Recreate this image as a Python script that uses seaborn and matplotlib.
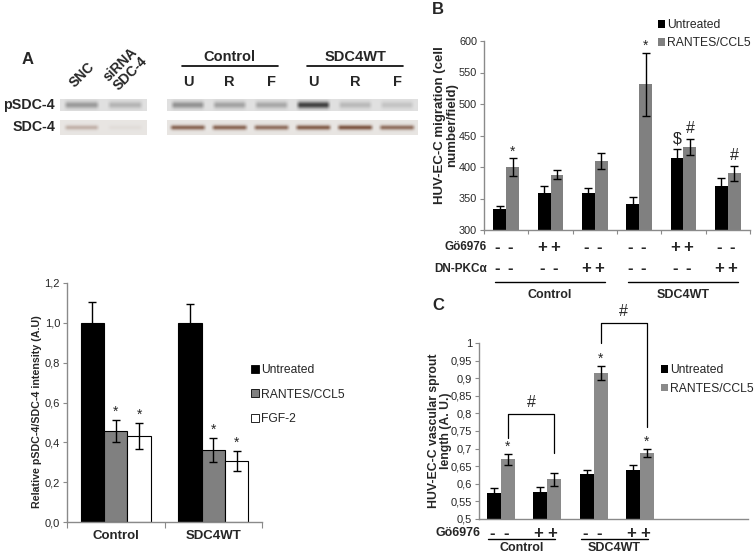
import numpy as np
import pandas as pd
import matplotlib
matplotlib.use("Agg")
import matplotlib.pyplot as plt
import matplotlib.transforms as mtransforms
from matplotlib.patches import Patch
from matplotlib.container import BarContainer
import seaborn as sns

# ---------------- data ----------------
# Panel A: western blot (band darkness 0..1)
blot_rows = ["pSDC-4", "SDC-4"]
blot_left_lanes = ["SNC", "siRNA\nSDC-4"]
blot_left_psdc = [0.40, 0.25]
blot_left_sdc = [0.30, 0.05]
blot_right_lanes = ["U", "R", "F", "U", "R", "F"]
blot_right_groups = ["Control", "SDC4WT"]
blot_right_psdc = [0.45, 0.35, 0.32, 0.92, 0.22, 0.16]
blot_right_sdc = [0.75, 0.75, 0.70, 0.80, 0.85, 0.70]

# Panel A: bar chart
a_groups = ["Control", "SDC4WT"]
a_treatments = ["Untreated", "RANTES/CCL5", "FGF-2"]
a_control = [1.0, 0.456, 0.433]
a_control_err = [0.105, 0.056, 0.065]
a_sdc4wt = [1.0, 0.361, 0.307]
a_sdc4wt_err = [0.094, 0.060, 0.050]
a_control_marks = ["", "*", "*"]
a_sdc4wt_marks = ["", "*", "*"]
a_yticks = [0.0, 0.2, 0.4, 0.6, 0.8, 1.0, 1.2]

# Panel B: migration
b_treatments = ["Untreated", "RANTES/CCL5"]
b_untreated = [334, 359, 359, 342, 414, 370]
b_untreated_err = [4, 11, 7, 10, 14, 12]
b_rantes = [400, 388, 409, 531, 432, 390]
b_rantes_err = [13.5, 7, 12.5, 50, 13, 12]
b_untreated_marks = ["", "", "", "", "$", ""]
b_rantes_marks = ["*", "", "", "*", "#", "#"]
b_go6976 = ["-", "+", "-", "-", "+", "-"]
b_dnpkc = ["-", "-", "+", "-", "-", "+"]
b_cell_groups = ["Control", "SDC4WT"]
b_yticks = [300, 350, 400, 450, 500, 550, 600]

# Panel C: sprout length
c_untreated = [0.575, 0.577, 0.628, 0.638]
c_untreated_err = [0.014, 0.013, 0.011, 0.015]
c_rantes = [0.670, 0.613, 0.915, 0.688]
c_rantes_err = [0.016, 0.018, 0.020, 0.011]
c_rantes_marks = ["*", "", "*", "*"]
c_go6976 = ["-", "+", "-", "+"]
c_cell_groups = ["Control", "SDC4WT"]
c_yticks = [0.5, 0.55, 0.6, 0.65, 0.7, 0.75, 0.8, 0.85, 0.9, 0.95, 1.0]
# significance brackets: (from bar, to bar, top, left end, right end)
c_brackets = [(0, 1, 0.798, 0.731, 0.688), (2, 3, 1.057, 1.0, 0.761)]

# ---------------- style ----------------
sns.set_style("white")
plt.rcParams["font.family"] = ["Liberation Sans", "DejaVu Sans"]
AXC = "#8a8a8a"
GREY = "#808080"

W, H = 754, 557
fig = plt.figure(figsize=(W / 100, H / 100), dpi=100)


def rect(l, t, r, b):
    return [l / W, 1 - b / H, (r - l) / W, (b - t) / H]


def fy(p):
    return 1 - p / H


def fx(p):
    return p / W


# ---------------- blot ----------------
def draw_strip(r, intens, bg, band, sigma=0.25, width=0.42):
    ax = fig.add_axes(rect(*r))
    n = len(intens)
    res = 60
    xs = (np.arange(n * res) + 0.5) / res
    ys = (np.arange(30) + 0.5) / 30
    lane = np.floor(xs).astype(int)
    frac = xs - lane
    hprof = np.clip((width - np.abs(frac - 0.5)) / 0.1, 0, 1)
    inten = np.asarray(intens)[lane]
    vprof = np.exp(-((ys - 0.5) / sigma) ** 2)
    alpha = vprof[:, None] * (hprof * inten)[None, :]
    bg = np.asarray(bg)
    band = np.asarray(band)
    img = bg[None, None, :] * (1 - alpha[..., None]) + band[None, None, :] * alpha[..., None]
    ax.imshow(img, extent=(-0.5, n - 0.5, 1, 0), aspect="auto", interpolation="bilinear")
    ax.set_xlim(-0.5, n - 0.5)
    ax.set_ylim(1, 0)
    ax.axis("off")
    return ax


P_BG, P_BAND = (0.88, 0.88, 0.88), (0.20, 0.20, 0.20)
S_BG, S_BAND = (0.91, 0.90, 0.89), (0.42, 0.24, 0.15)
bl_p = draw_strip((60, 99, 147, 111), blot_left_psdc, P_BG, P_BAND, 0.28)
bl_s = draw_strip((60, 120, 147, 135), blot_left_sdc, S_BG, S_BAND, 0.16)
br_p = draw_strip((167, 99, 418, 111), blot_right_psdc, P_BG, P_BAND, 0.28)
br_s = draw_strip((167, 120, 418, 135), blot_right_sdc, S_BG, S_BAND, 0.16, 0.45)

fig.text(fx(28), fy(60), "A", fontsize=12, fontweight="bold", ha="center", va="center")
fig.text(fx(55), fy(105), blot_rows[0], fontsize=10.3, fontweight="bold", ha="right", va="center")
fig.text(fx(55), fy(127), blot_rows[1], fontsize=10.3, fontweight="bold", ha="right", va="center")

trl = mtransforms.blended_transform_factory(bl_p.transData, fig.transFigure)
for i, lab in enumerate(blot_left_lanes):
    fig.text(i, fy(75 - 6 * i), lab, transform=trl, fontsize=10, fontweight="bold", rotation=45,
             ha="center", va="center", linespacing=0.95)

trr = mtransforms.blended_transform_factory(br_p.transData, fig.transFigure)
for i, lab in enumerate(blot_right_lanes):
    fig.text(i, fy(82), lab, transform=trr, fontsize=10.5, fontweight="bold", ha="center", va="center")
for g, lab in enumerate(blot_right_groups):
    c = 3 * g + 1
    fig.text(c, fy(57), lab, transform=trr, fontsize=10.5, fontweight="bold", ha="center", va="center")
    fig.add_artist(plt.Line2D([c - 1.15, c + 1.15], [fy(66), fy(66)], transform=trr,
                              color="black", lw=1.2))


# ---------------- helpers ----------------
def style_axes(ax):
    sns.despine(ax=ax)
    for s in ("left", "bottom"):
        ax.spines[s].set_color(AXC)
        ax.spines[s].set_linewidth(1.0)
    ax.tick_params(axis="y", which="major", direction="out", length=3, width=0.8,
                   color=AXC, left=True, pad=2)


def bar_containers(ax):
    return [c for c in ax.containers if isinstance(c, BarContainer)]


def add_errors(ax, errs, marks, offset_pts):
    """errs[k][i]: hue level k, category i"""
    tops = []
    for k, cont in enumerate(bar_containers(ax)):
        row = []
        for i, p in enumerate(cont.patches):
            x = p.get_x() + p.get_width() / 2
            h = p.get_height()
            e = errs[k][i]
            ax.errorbar([x], [h], yerr=[e], fmt="none", ecolor="black",
                        elinewidth=1.0, capsize=2.6, capthick=1.0, zorder=5)
            m = marks[k][i]
            if m:
                fs = 10 if m == "*" else 11.5
                ax.annotate(m, (x, h + e), xytext=(0, offset_pts.get(m, 1)),
                            textcoords="offset points", ha="center", va="bottom",
                            fontsize=fs, annotation_clip=False)
            row.append((x, h + e))
        tops.append(row)
    return tops


# ---------------- panel A bars ----------------
axA = fig.add_axes(rect(67, 283, 262, 522))
dfA = pd.DataFrame({
    "group": [g for g in a_groups for _ in a_treatments],
    "treatment": a_treatments * len(a_groups),
    "value": a_control + a_sdc4wt,
})
sns.barplot(data=dfA, x="group", y="value", hue="treatment", order=a_groups,
            hue_order=a_treatments, palette=["black", GREY, "white"], saturation=1,
            edgecolor="black", linewidth=0.8, width=0.72, errorbar=None,
            legend=False, ax=axA)
a_err_by_hue = [list(e) for e in zip(a_control_err, a_sdc4wt_err)]
a_marks_by_hue = [list(m) for m in zip(a_control_marks, a_sdc4wt_marks)]
add_errors(axA, a_err_by_hue, a_marks_by_hue, {"*": 1})
axA.set_ylim(0, 1.2)
axA.set_xlim(-0.5, 1.5)
axA.set_yticks(a_yticks)
axA.set_yticklabels([f"{v:.1f}".replace(".", ",") for v in a_yticks], fontsize=8)
axA.set_xticks(range(len(a_groups)))
axA.set_xticklabels(a_groups, fontsize=9.5, fontweight="bold")
axA.set_xticks([-0.5, 0.5, 1.5], minor=True)
axA.tick_params(axis="x", which="major", length=0, pad=6)
axA.tick_params(axis="x", which="minor", length=4, width=0.8, color=AXC, direction="out", bottom=True)
axA.set_xlabel("")
axA.set_ylabel("Relative pSDC-4/SDC-4 intensity (A.U)", fontsize=7.7, fontweight="bold")
axA.yaxis.set_label_coords(-0.13, 0.46)
style_axes(axA)

fig.legend(handles=[Patch(facecolor=c, edgecolor="black", linewidth=0.6) for c in ["black", GREY, "white"]],
           labels=a_treatments, loc="upper left", bbox_to_anchor=(fx(251), fy(364)),
           frameon=False, fontsize=8.7, handlelength=0.65, handleheight=0.65,
           handletextpad=0.15, labelspacing=1.05, borderpad=0, borderaxespad=0)


# ---------------- panel B ----------------
axB = fig.add_axes(rect(484, 41, 750, 230))
nB = len(b_untreated)
dfB = pd.DataFrame({
    "cond": [str(i) for i in range(nB)] * 2,
    "treatment": [b_treatments[0]] * nB + [b_treatments[1]] * nB,
    "value": b_untreated + b_rantes,
})
sns.barplot(data=dfB, x="cond", y="value", hue="treatment", hue_order=b_treatments,
            palette=["black", GREY], saturation=1, linewidth=0, width=0.58,
            errorbar=None, legend=False, ax=axB)
axB.set_ylim(300, 600)
add_errors(axB, [b_untreated_err, b_rantes_err], [b_untreated_marks, b_rantes_marks],
           {"*": 0, "$": 2, "#": 2})
axB.set_xlim(-0.5, nB - 0.5)
axB.set_yticks(b_yticks)
axB.set_yticklabels([str(v) for v in b_yticks], fontsize=7.8)
axB.set_xticks([])
axB.set_xticks(np.arange(-0.5, nB, 1.0), minor=True)
axB.tick_params(axis="x", which="minor", length=3, width=0.8, color=AXC, direction="out", bottom=True)
axB.set_xlabel("")
axB.set_ylabel("HUV-EC-C migration (cell\nnumber/field)", fontsize=9.5, fontweight="bold",
               linespacing=1.0)
axB.yaxis.set_label_coords(-0.098, 0.556)
style_axes(axB)

trB = mtransforms.blended_transform_factory(axB.transData, axB.transAxes)
bx = [[p.get_x() + p.get_width() / 2 for p in c.patches] for c in bar_containers(axB)]
axB.text(-0.43, -0.09, "Gö6976", transform=trB, ha="right", va="center", fontsize=8.5, fontweight="bold")
axB.text(-0.43, -0.205, "DN-PKCα", transform=trB, ha="right", va="center", fontsize=8.5, fontweight="bold")
for i in range(nB):
    for k in range(2):
        axB.text(bx[k][i] - 0.05, -0.09, b_go6976[i], transform=trB, ha="center", va="center",
                 fontsize=12, fontweight="bold")
        axB.text(bx[k][i] - 0.05, -0.205, b_dnpkc[i], transform=trB, ha="center", va="center",
                 fontsize=12, fontweight="bold")
for g, lab in enumerate(b_cell_groups):
    x0, x1 = 3 * g - 0.25, 3 * g + 2.22
    axB.plot([x0, x1], [-0.275, -0.275], transform=trB, color="black", lw=1.0, clip_on=False)
    axB.text((x0 + x1) / 2, -0.345, lab, transform=trB, ha="center", va="center",
             fontsize=9, fontweight="bold")

fig.text(fx(438), fy(10), "B", fontsize=12, fontweight="bold", ha="center", va="center")
fig.legend(handles=[Patch(facecolor=c, edgecolor="none") for c in ["black", GREY]],
           labels=b_treatments, loc="upper left", bbox_to_anchor=(fx(658), fy(19)),
           frameon=False, fontsize=8.7, handlelength=0.6, handleheight=0.6,
           handletextpad=0.15, labelspacing=0.5, borderpad=0, borderaxespad=0)


# ---------------- panel C ----------------
axC = fig.add_axes(rect(479, 343, 748, 519))
nC = len(c_untreated)
dfC = pd.DataFrame({
    "cond": [str(i) for i in range(nC)] * 2,
    "treatment": [b_treatments[0]] * nC + [b_treatments[1]] * nC,
    "value": c_untreated + c_rantes,
})
sns.barplot(data=dfC, x="cond", y="value", hue="treatment", hue_order=b_treatments,
            palette=["black", "#8a8a8a"], saturation=1, linewidth=0, width=0.6,
            errorbar=None, legend=False, ax=axC)
axC.set_ylim(0.5, 1.0)
tops = add_errors(axC, [c_untreated_err, c_rantes_err], [[""] * nC, c_rantes_marks], {"*": 0})
axC.set_xlim(-0.475, 5.33)
axC.set_yticks(c_yticks)
axC.set_yticklabels([f"{v:g}".replace(".", ",") for v in c_yticks], fontsize=8)
axC.set_xticks([])
axC.set_xlabel("")
axC.set_ylabel("HUV-EC-C vascular sprout\nlength (A. U.)", fontsize=8.8, fontweight="bold",
               linespacing=1.05)
axC.yaxis.set_label_coords(-0.10, 0.5)
style_axes(axC)

for (i, j, ytop, yl, yr) in c_brackets:
    xl = tops[1][i][0]
    xr = tops[1][j][0]
    axC.plot([xl, xl, xr, xr], [yl, ytop, ytop, yr], color="black", lw=0.9, clip_on=False)
    axC.text((xl + xr) / 2, ytop + 0.012, "#", ha="center", va="bottom", fontsize=11.5)

trC = mtransforms.blended_transform_factory(axC.transData, axC.transAxes)
cx = [[p.get_x() + p.get_width() / 2 for p in c.patches] for c in bar_containers(axC)]
axC.text(-0.45, -0.08, "Gö6976", transform=trC, ha="right", va="center", fontsize=9, fontweight="bold")
for i in range(nC):
    for k in range(2):
        axC.text(cx[k][i] - 0.04, -0.08, c_go6976[i], transform=trC, ha="center", va="center",
                 fontsize=12, fontweight="bold")
for g, lab in enumerate(c_cell_groups):
    x0, x1 = 2 * g - 0.28, 2 * g + 1.17
    axC.plot([x0, x1], [-0.114, -0.114], transform=trC, color="black", lw=1.0, clip_on=False)
    axC.text((x0 + x1) / 2, -0.165, lab, transform=trC, ha="center", va="center",
             fontsize=9, fontweight="bold")

fig.text(fx(438), fy(305), "C", fontsize=12, fontweight="bold", ha="center", va="center")
fig.legend(handles=[Patch(facecolor=c, edgecolor="none") for c in ["black", "#8a8a8a"]],
           labels=b_treatments, loc="upper left", bbox_to_anchor=(fx(661), fy(364)),
           frameon=False, fontsize=8.7, handlelength=0.6, handleheight=0.6,
           handletextpad=0.15, labelspacing=0.55, borderpad=0, borderaxespad=0)

fig.savefig("out.png", dpi=100)
